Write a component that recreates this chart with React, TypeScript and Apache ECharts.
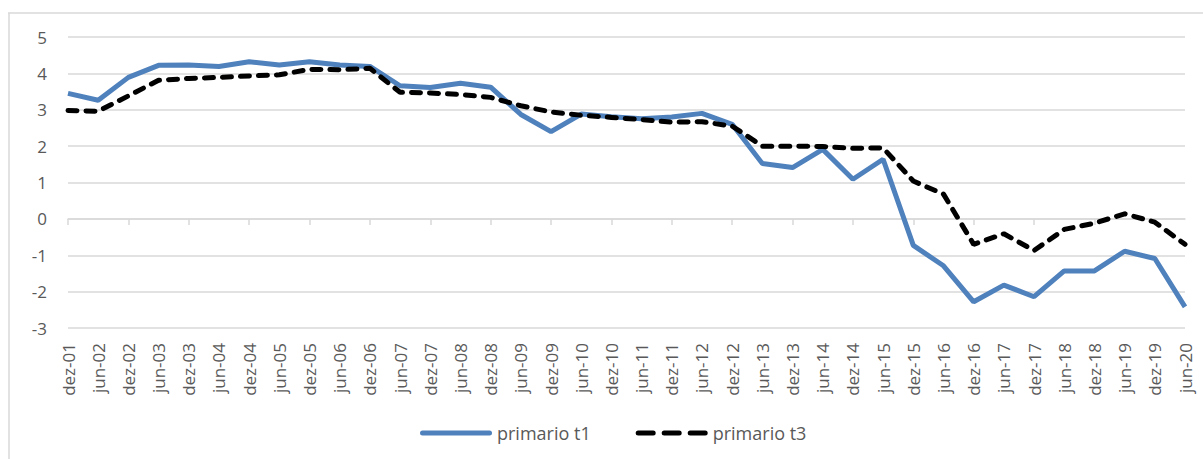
import React, { useEffect, useRef } from "react";
import * as echarts from "echarts";

const categories: string[] = [
  "dez-01", "jun-02", "dez-02", "jun-03", "dez-03", "jun-04", "dez-04", "jun-05", "dez-05", "jun-06",
  "dez-06", "jun-07", "dez-07", "jun-08", "dez-08", "jun-09", "dez-09", "jun-10", "dez-10", "jun-11",
  "dez-11", "jun-12", "dez-12", "jun-13", "dez-13", "jun-14", "dez-14", "jun-15", "dez-15", "jun-16",
  "dez-16", "jun-17", "dez-17", "jun-18", "dez-18", "jun-19", "dez-19", "jun-20",
];

const primarioT1: number[] = [
  3.45, 3.26, 3.89, 4.22, 4.23, 4.19, 4.32, 4.23, 4.32, 4.23,
  4.19, 3.66, 3.61, 3.73, 3.62, 2.87, 2.4, 2.88, 2.81, 2.75,
  2.8, 2.9, 2.6, 1.52, 1.41, 1.91, 1.09, 1.64, -0.73, -1.29,
  -2.28, -1.82, -2.14, -1.43, -1.43, -0.89, -1.09, -2.42,
];

const primarioT3: number[] = [
  2.98, 2.96, 3.38, 3.81, 3.86, 3.89, 3.93, 3.96, 4.11, 4.1,
  4.14, 3.48, 3.46, 3.42, 3.34, 3.11, 2.94, 2.85, 2.79, 2.73,
  2.66, 2.67, 2.55, 2.0, 2.0, 1.99, 1.94, 1.95, 1.04, 0.68,
  -0.7, -0.41, -0.87, -0.29, -0.12, 0.14, -0.09, -0.7,
];

const seriesNames: string[] = ["primario t1", "primario t3"];

const FONT = "'Open Sans', 'Noto Sans', sans-serif";
const TXT = "#595959";
const BLUE = "#4f81bd";

export default function App() {
  const ref = useRef<HTMLDivElement>(null);

  useEffect(() => {
    if (!ref.current) return;
    const chart = echarts.init(ref.current, undefined, { renderer: "svg" });
    chart.setOption({
      animation: false,
      backgroundColor: "#ffffff",
      textStyle: { fontFamily: FONT },
      graphic: [
        { type: "line", shape: { x1: 8, y1: 13, x2: 1203, y2: 13 }, style: { stroke: "#d9d9d9", lineWidth: 1.5 } },
        { type: "line", shape: { x1: 9, y1: 13, x2: 9, y2: 459 }, style: { stroke: "#d9d9d9", lineWidth: 1.5 } },
      ],
      grid: { left: 68, right: 18, top: 37, bottom: 131 },
      legend: {
        top: 419,
        left: 415,
        itemWidth: 72,
        itemHeight: 5,
        itemGap: 45,
        data: [
          { name: seriesNames[0], icon: "path://M2.5,0h67a2.5,2.5 0 0 1 0,5h-67a2.5,2.5 0 0 1 0,-5z", itemStyle: { color: BLUE } },
          {
            name: seriesNames[1],
            icon: "path://M2.5,0h15a2.5,2.5 0 0 1 0,5h-15a2.5,2.5 0 0 1 0,-5z M28.5,0h15a2.5,2.5 0 0 1 0,5h-15a2.5,2.5 0 0 1 0,-5z M54.5,0h15a2.5,2.5 0 0 1 0,5h-15a2.5,2.5 0 0 1 0,-5z",
            itemStyle: { color: "#000000" },
          },
        ],
        textStyle: { color: TXT, fontSize: 18, fontFamily: FONT },
      },
      xAxis: [
        {
          type: "category",
          data: categories,
          boundaryGap: false,
          axisLine: { onZero: true, lineStyle: { color: "#d9d9d9", width: 1.5 } },
          axisTick: { show: true, length: 6, lineStyle: { color: "#d9d9d9", width: 1.5 } },
          axisLabel: { show: false },
          splitLine: { show: false },
        },
        {
          type: "category",
          data: categories,
          boundaryGap: false,
          position: "bottom",
          axisLine: { show: false, onZero: false },
          axisTick: { show: false },
          axisLabel: {
            show: true,
            rotate: 90,
            interval: 0,
            margin: 15,
            color: TXT,
            fontSize: 17,
            fontFamily: FONT,
          },
        },
      ],
      yAxis: {
        type: "value",
        min: -3,
        max: 5,
        interval: 1,
        axisLine: { show: false },
        axisTick: { show: false },
        axisLabel: { color: TXT, fontSize: 17, margin: 21, fontFamily: FONT },
        splitLine: { lineStyle: { color: "#d9d9d9", width: 1.5 } },
      },
      series: [
        {
          name: seriesNames[0],
          type: "line",
          xAxisIndex: 0,
          data: primarioT1,
          showSymbol: false,
          symbol: "none",
          lineStyle: { color: BLUE, width: 5 },
          itemStyle: { color: BLUE },
        },
        {
          name: seriesNames[1],
          type: "line",
          xAxisIndex: 0,
          data: primarioT3,
          showSymbol: false,
          symbol: "none",
          lineStyle: { color: "#000000", width: 5, type: [9, 9], cap: "round" },
          itemStyle: { color: "#000000" },
        },
      ],
    });
    return () => chart.dispose();
  }, []);

  return (
    <div
      ref={ref}
      style={{ position: "fixed", left: 0, top: 0, width: 1203, height: 459 }}
    />
  );
}
